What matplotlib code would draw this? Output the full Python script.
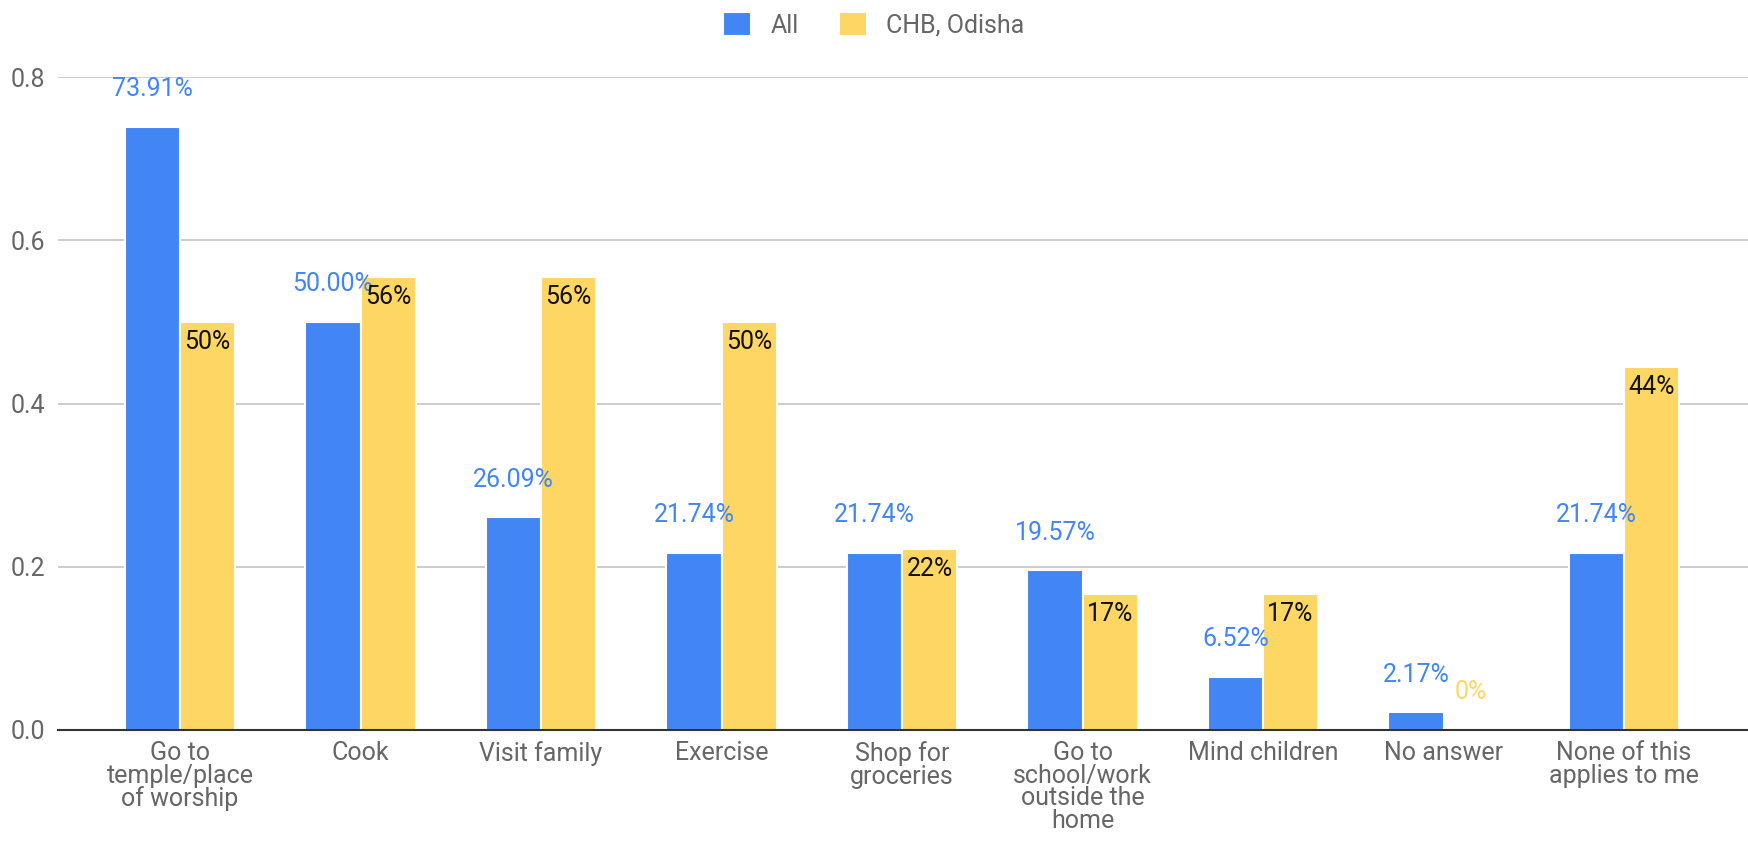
import numpy as np
import matplotlib.pyplot as plt

# data
categories = [
    "Go to\ntemple/place\nof worship",
    "Cook",
    "Visit family",
    "Exercise",
    "Shop for\ngroceries",
    "Go to\nschool/work\noutside the\nhome",
    "Mind children",
    "No answer",
    "None of this\napplies to me",
]
all_values = [0.7391, 0.5000, 0.2609, 0.2174, 0.2174, 0.1957, 0.0652, 0.0217, 0.2174]
chb_values = [0.5000, 0.5556, 0.5556, 0.5000, 0.2222, 0.1667, 0.1667, 0.0, 0.4444]
all_labels = ["73.91%", "50.00%", "26.09%", "21.74%", "21.74%", "19.57%", "6.52%", "2.17%", "21.74%"]
chb_labels = ["50%", "56%", "56%", "50%", "22%", "17%", "17%", "0%", "44%"]
series_names = ["All", "CHB, Odisha"]
y_ticks = [0.0, 0.2, 0.4, 0.6, 0.8]

BLUE = "#4285F4"
YELLOW = "#FDD663"
GREY = "#666666"
FS = 18

plt.rcParams["font.family"] = ["Roboto", "DejaVu Sans"]

fig = plt.figure(figsize=(17.48, 8.41), dpi=100)
ax = fig.add_axes([0.0332, 0.132, 0.9668, 0.7764])

x = np.arange(len(categories))
w = 0.305
b1 = ax.bar(x - w / 2, all_values, w, color=BLUE, edgecolor="white", linewidth=1.5,
            label=series_names[0], zorder=3)
b2 = ax.bar(x + w / 2, chb_values, w, color=YELLOW, edgecolor="white", linewidth=1.5,
            label=series_names[1], zorder=3)

# value labels: blue above the bar, yellow inside the top (or above when zero)
for xi, v, lab in zip(x, all_values, all_labels):
    ax.annotate(lab, (xi - w / 2, v), xytext=(0, 27), textcoords="offset points",
                ha="center", va="center", fontsize=FS, color=BLUE, zorder=4)
for xi, v, lab in zip(x, chb_values, chb_labels):
    if v > 0.05:
        ax.annotate(lab, (xi + w / 2, v), xytext=(0, -14.5), textcoords="offset points",
                    ha="center", va="center", fontsize=FS, color="#111111", zorder=4)
    else:
        ax.annotate(lab, (xi + w / 2, v), xytext=(0, 27), textcoords="offset points",
                    ha="center", va="center", fontsize=FS, color=YELLOW, zorder=4)

ax.set_xlim(-0.676, 8.687)
ax.set_ylim(0, 0.8)
ax.set_yticks(y_ticks)
ax.set_yticklabels([f"{t:.1f}" for t in y_ticks])
ax.set_xticks(x)
ax.set_xticklabels(categories, linespacing=0.92)

ax.grid(axis="y", color="#cccccc", linewidth=1.4, zorder=0)
ax.set_axisbelow(True)
for s in ["top", "right", "left"]:
    ax.spines[s].set_visible(False)
ax.spines["bottom"].set_color("#333333")
ax.spines["bottom"].set_linewidth(1.5)
ax.spines["bottom"].set_zorder(5)
ax.tick_params(axis="both", length=0, labelsize=FS, colors=GREY)
ax.tick_params(axis="y", pad=9)
ax.tick_params(axis="x", pad=8)

fig.legend(handles=[b1, b2], loc="upper center", bbox_to_anchor=(0.5, 1.012), ncol=2,
           frameon=False, fontsize=FS, labelcolor=GREY, handlelength=1.1, handleheight=1.1,
           columnspacing=1.6, handletextpad=0.8)

fig.savefig("out.png", dpi=100, facecolor="white")
